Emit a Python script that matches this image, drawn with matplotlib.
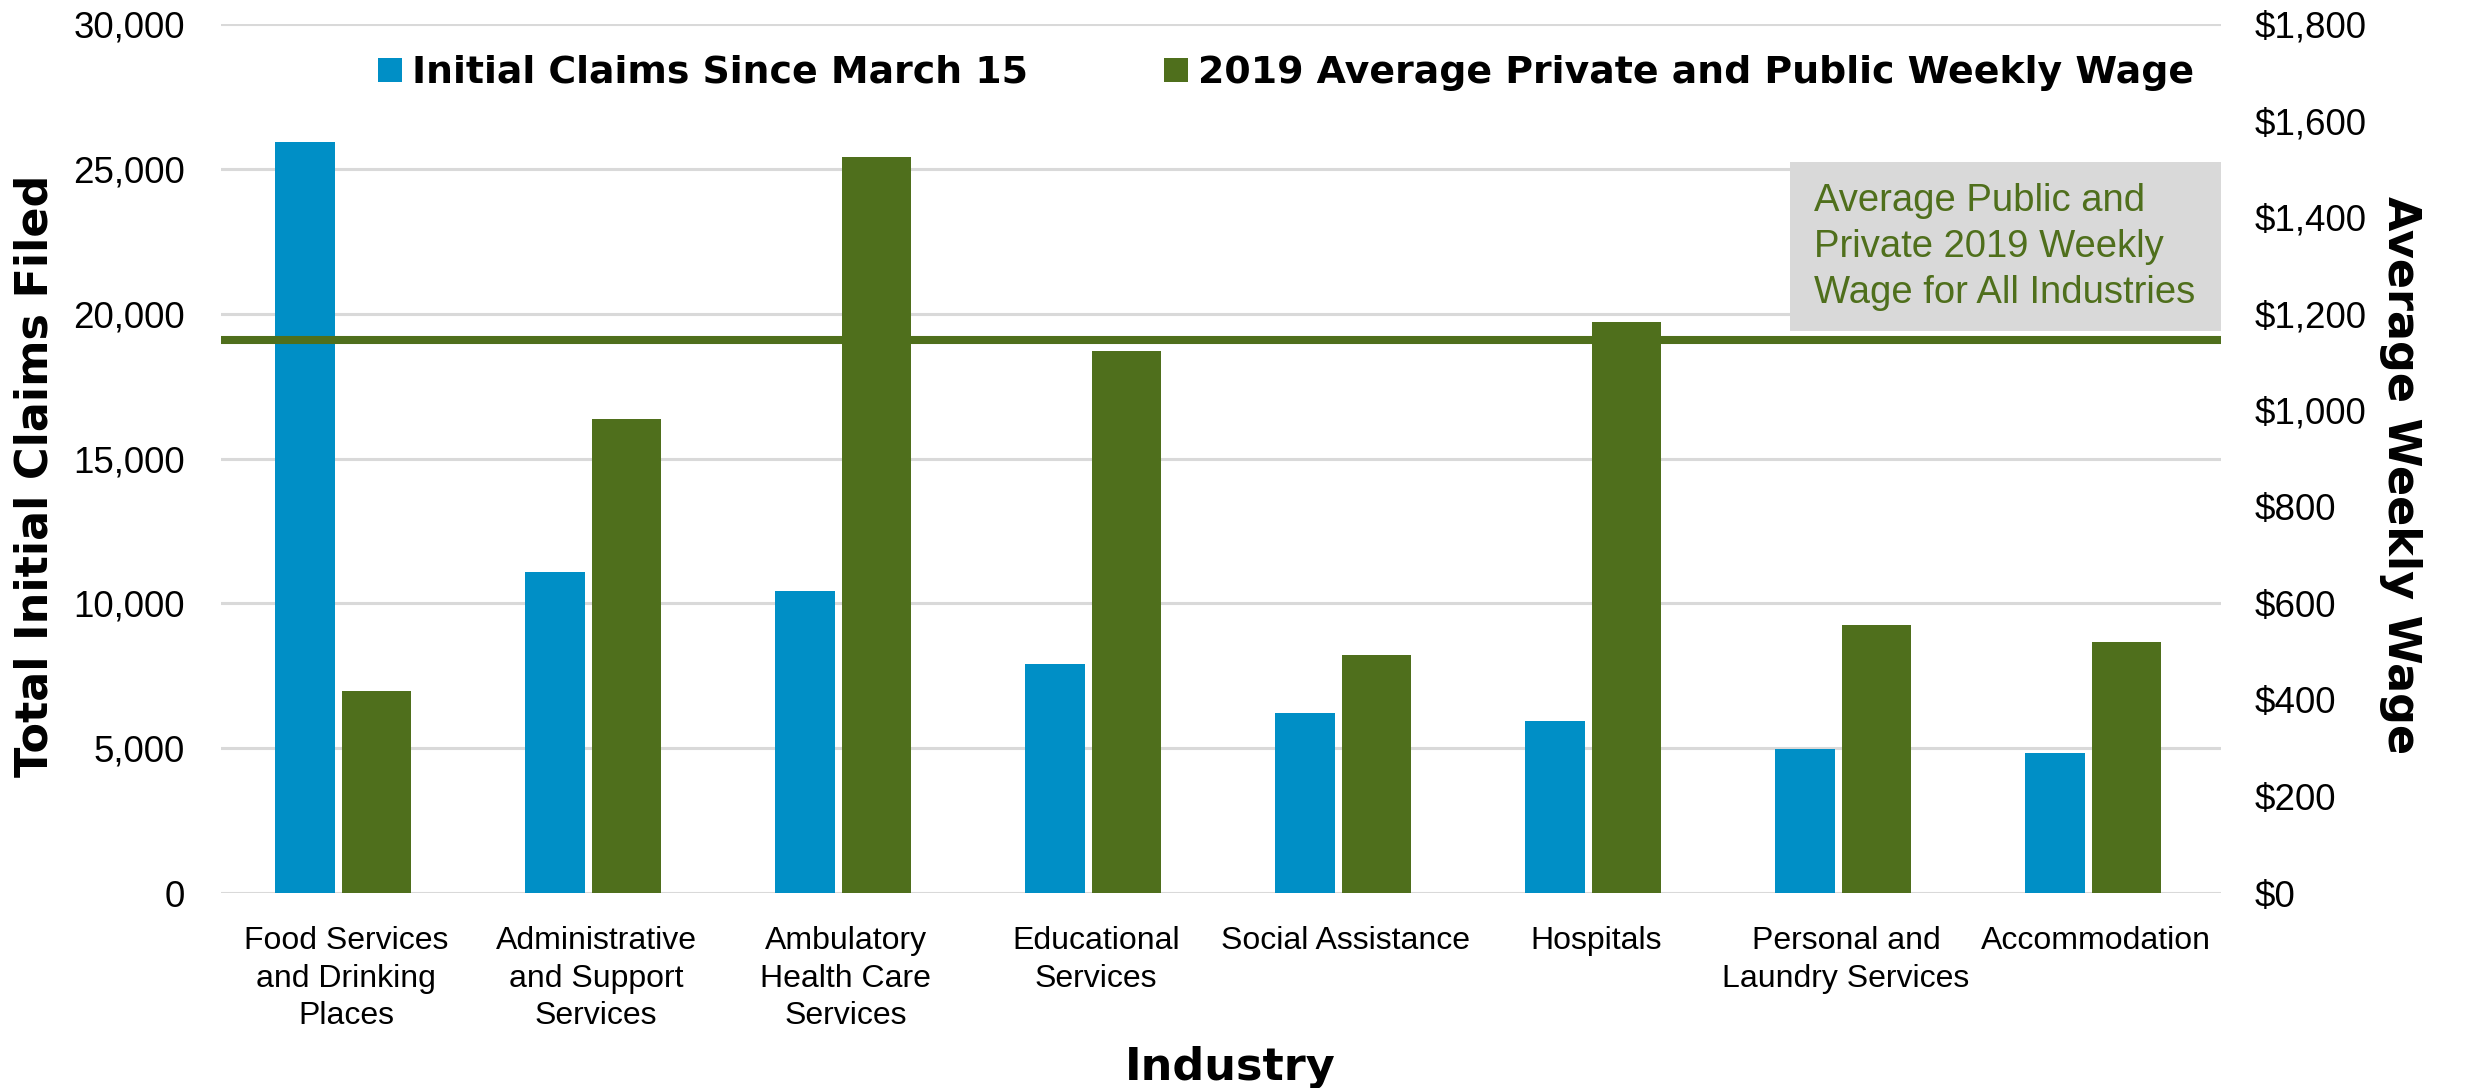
import matplotlib
matplotlib.use('Agg')
import matplotlib.pyplot as plt
from matplotlib.patches import Rectangle
from matplotlib.ticker import FuncFormatter, MultipleLocator
import numpy as np

# data
industries = ['Food Services\nand Drinking\nPlaces', 'Administrative\nand Support\nServices',
              'Ambulatory\nHealth Care\nServices', 'Educational\nServices',
              'Social Assistance', 'Hospitals', 'Personal and\nLaundry Services',
              'Accommodation']
claims = [25950, 11090, 10440, 7925, 6200, 5940, 4980, 4840]
wages = [418, 983, 1526, 1122, 493, 1184, 556, 520]
avg_wage = 1145

claims_label = 'Initial Claims Since March 15'
wage_label = '2019 Average Private and Public Weekly Wage'
note_text = 'Average Public and\nPrivate 2019 Weekly\nWage for All Industries'

blue = '#008FC6'
green = '#4F6F1C'
grid_gray = '#D9D9D9'

reg = 'Liberation Sans'
bold = 'DejaVu Sans'

fig = plt.figure(figsize=(24.66, 10.88), dpi=100)
ax = fig.add_axes([0.0896, 0.1792, 0.8110, 0.7985])
ax2 = ax.twinx()

x = np.arange(len(industries))
b1 = ax.bar(x - 0.164, claims, width=0.24, color=blue, zorder=2)
b2 = ax2.bar(x + 0.122, wages, width=0.276, color=green, zorder=2)
ax2.axhline(avg_wage, color=green, lw=5.8, zorder=3)

ax.set_xlim(-0.5, len(industries) - 0.5)
ax.set_ylim(0, 30000)
ax2.set_ylim(0, 1800)
ax.yaxis.set_major_locator(MultipleLocator(5000))
ax2.yaxis.set_major_locator(MultipleLocator(200))
ax.yaxis.set_major_formatter(FuncFormatter(lambda v, p: '{:,.0f}'.format(v)))
ax2.yaxis.set_major_formatter(FuncFormatter(lambda v, p: '${:,.0f}'.format(v)))

ax.set_axisbelow(True)
ax.grid(axis='y', color=grid_gray, lw=2.2, zorder=0)
ax.set_xticks(x)
ax.set_xticklabels(industries, fontfamily=reg, fontsize=23, linespacing=1.32)
ax.tick_params(axis='x', length=0, pad=24)
ax.tick_params(axis='y', length=0, pad=26, labelsize=26.5)
ax2.tick_params(axis='y', length=0, pad=24, labelsize=26.5)
for lab in ax.get_yticklabels() + ax2.get_yticklabels():
    lab.set_fontfamily(reg)

for a in (ax, ax2):
    for s in a.spines.values():
        s.set_visible(False)

ax.set_ylabel('Total Initial Claims Filed', fontfamily=bold, fontweight='bold', fontsize=32,
              va='center')
ax.yaxis.set_label_coords(-0.093, 0.48)
ax2.set_ylabel('Average Weekly Wage', fontfamily=bold, fontweight='bold', fontsize=32,
               rotation=270, va='center')
ax2.yaxis.set_label_coords(1.09, 0.481)
ax.set_xlabel('Industry', fontfamily=bold, fontweight='bold', fontsize=32, va='baseline')
ax.xaxis.set_label_coords(0.5045, -0.2152)

# note box
ax2.add_patch(Rectangle((0.7845, 0.6467), 0.2155, 0.1945, transform=ax2.transAxes,
                        facecolor=grid_gray, edgecolor='none', zorder=4, clip_on=False))
ax2.text(0.7965, 0.817, note_text, transform=ax2.transAxes, fontfamily=reg, fontsize=27.5,
         color=green, va='top', ha='left', linespacing=1.36, zorder=5)

leg = ax2.legend([b1, b2], [claims_label, wage_label], ncol=2, frameon=False,
                 loc='center left', bbox_to_anchor=(0.0785, 0.944), borderaxespad=0,
                 borderpad=0, handlelength=0.63, handleheight=0.6, handletextpad=0.26,
                 columnspacing=3.6, prop={'family': bold, 'weight': 'bold', 'size': 27.3})

fig.savefig('out.png', dpi=100)
